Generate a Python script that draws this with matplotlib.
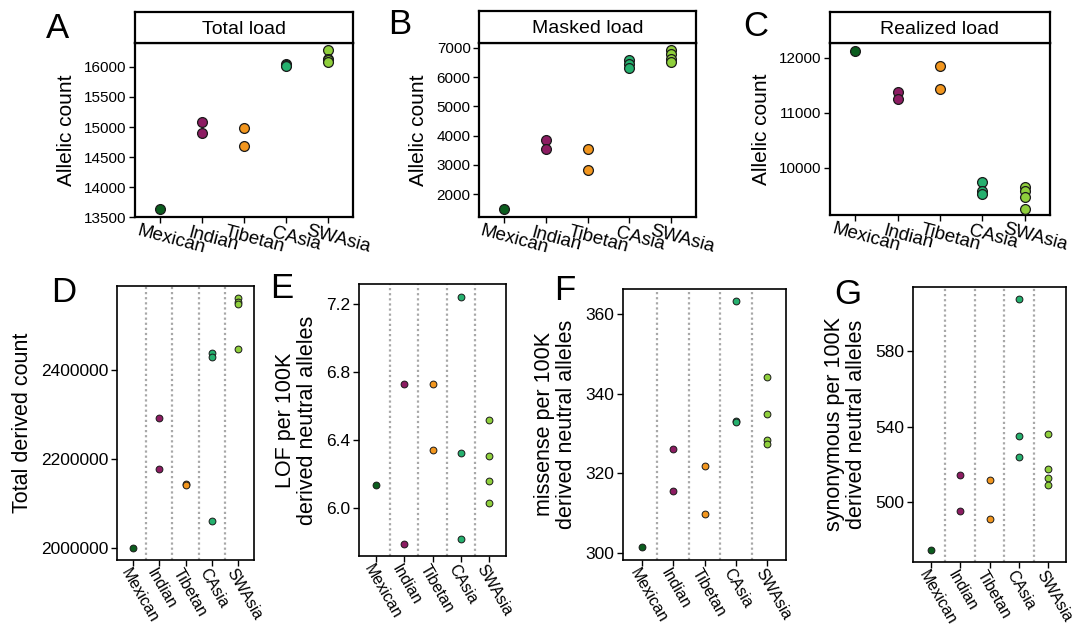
import numpy as np
import matplotlib
matplotlib.use('Agg')
import matplotlib.pyplot as plt
import matplotlib.transforms as mtransforms

plt.rcParams['font.family'] = ['Liberation Sans', 'DejaVu Sans']

#%% data

groups = ['Mexican', 'Indian', 'Tibetan', 'CAsia', 'SWAsia']
colors = ['#0b5d1e', '#8c1c62', '#f2961e', '#25b06e', '#8fcf3c']

total_load = [[13628], [15078, 14900], [14990, 14690],
              [16050, 16035, 16020], [16280, 16140, 16110, 16090]]
masked_load = [[1490], [3850, 3540], [3550, 2830],
               [6580, 6440, 6300], [6920, 6800, 6600, 6520]]
realized_load = [[12130], [11370, 11250], [11855, 11425],
                 [9745, 9580, 9515], [9655, 9580, 9475, 9250]]
total_derived = [[2000000], [2291700, 2177600], [2144000, 2143000],
                 [2438800, 2428000, 2061200], [2560700, 2553000, 2547000, 2446400]]
lof = [[6.134], [6.728, 5.786], [6.73, 6.34],
       [7.245, 6.325, 5.817], [6.518, 6.303, 6.156, 6.028]]
missense = [[301.4], [326.1, 315.5], [321.8, 309.8],
            [363.4, 333.1, 333.0], [344.3, 334.9, 328.4, 327.3]]
synonymous = [[474.6], [514.4, 494.9], [511.4, 490.8],
              [607.9, 534.9, 524.0], [536.0, 517.3, 512.6, 508.9]]

#%% layout helpers

W, H = 1075, 627
fig = plt.figure(figsize=(W / 100, H / 100), dpi=100)


def px_axes(x0, y0, x1, y1):
    return fig.add_axes([x0 / W, 1 - y1 / H, (x1 - x0) / W, (y1 - y0) / H])


def scatter_groups(ax, data, s, lw):
    for i, vals in enumerate(data):
        ax.scatter([i] * len(vals), vals, s=s, color=colors[i],
                   edgecolors='#1a1a1a', linewidths=lw, zorder=3)


def group_labels(ax, dx, dy, rot, ha, fs):
    # slanted group names, drawn as text so they can be nudged (pixels)
    ax.set_xticks(range(len(groups)))
    ax.set_xticklabels([])
    off = mtransforms.ScaledTranslation(dx / 100, dy / 100, fig.dpi_scale_trans)
    for i, g in enumerate(groups):
        ax.text(i, 0, g, transform=ax.get_xaxis_transform() + off,
                rotation=rot, rotation_mode='anchor', ha=ha, va='top',
                fontsize=fs)


def top_panel(box, strip_y0, data, title, ylim, yticks, letter, letter_xy):
    x0, y0, x1, y1 = box
    ax = px_axes(x0, y0, x1, y1)
    scatter_groups(ax, data, s=50, lw=0.9)
    ax.set_xlim(-0.6, 4.6)
    ax.set_ylim(*ylim)
    ax.set_yticks(yticks)
    group_labels(ax, 13, -14, -15, 'center', 13.5)
    ax.tick_params(axis='y', labelsize=11, length=4, width=1, pad=2)
    ax.tick_params(axis='x', length=4, width=1)
    for sp in ax.spines.values():
        sp.set_linewidth(1.6)
    ax.set_ylabel('Allelic count', fontsize=15, labelpad=6)

    st = px_axes(x0, strip_y0, x1, y0)
    st.set_xticks([])
    st.set_yticks([])
    for sp in st.spines.values():
        sp.set_linewidth(1.6)
    st.text(0.5, 0.45, title, transform=st.transAxes, ha='center',
            va='center', fontsize=14)
    fig.text(letter_xy[0] / W, 1 - letter_xy[1] / H, letter, fontsize=25,
             ha='center', va='center')
    return ax


def bottom_panel(box, data, ylabel, ylim, yticks, fmt, letter, letter_xy):
    x0, y0, x1, y1 = box
    ax = px_axes(x0, y0, x1, y1)
    for xv in np.arange(0.5, len(groups) - 0.5, 1):
        ax.axvline(xv, color='#a8a8a8', lw=1.6, ls=(0, (1, 1.3)), zorder=1)
    scatter_groups(ax, data, s=24, lw=0.7)
    ax.set_xlim(-0.6, 4.6)
    ax.set_ylim(*ylim)
    ax.set_yticks(yticks)
    ax.set_yticklabels([fmt.format(v) for v in yticks])
    group_labels(ax, -2, -6, -60, 'left', 11.5)
    ax.tick_params(axis='y', labelsize=12.5, length=4, width=1, pad=2)
    ax.tick_params(axis='x', length=4, width=1)
    for sp in ax.spines.values():
        sp.set_linewidth(1.2)
    ax.set_ylabel(ylabel, fontsize=15.5, labelpad=6, linespacing=1.1)
    fig.text(letter_xy[0] / W, 1 - letter_xy[1] / H, letter, fontsize=25,
             ha='center', va='center')
    return ax


#%% top row

top_panel((135, 43, 353, 217), 12, total_load, 'Total load',
          (13500, 16400), np.arange(13500, 16001, 500), 'A', (58, 28))
top_panel((479, 43, 696, 217), 11, masked_load, 'Masked load',
          (1226, 7160), np.arange(2000, 7001, 1000), 'B', (400, 24))
top_panel((830, 43, 1050, 215), 12, realized_load, 'Realized load',
          (9140, 12267), [10000, 11000, 12000], 'C', (756, 27))

#%% bottom row

bottom_panel((117, 286, 254, 560), total_derived, 'Total derived count',
             (1973800, 2588300), [2000000, 2200000, 2400000], '{:.0f}',
             'D', (64, 292))
bottom_panel((359, 284, 506, 556), lof, 'LOF per 100K\nderived neutral alleles',
             (5.715, 7.32), [6.0, 6.4, 6.8, 7.2], '{:.1f}', 'E', (282, 289))
bottom_panel((623, 289, 786, 560), missense,
             'missense per 100K\nderived neutral alleles',
             (298.2, 366.3), [300, 320, 340, 360], '{:.0f}', 'F', (565, 290))
bottom_panel((913, 287, 1066, 562), synonymous,
             'synonymous per 100K\nderived neutral alleles',
             (468, 614.3), [500, 540, 580], '{:.0f}', 'G', (848, 294))

fig.savefig('out.png', dpi=100)
